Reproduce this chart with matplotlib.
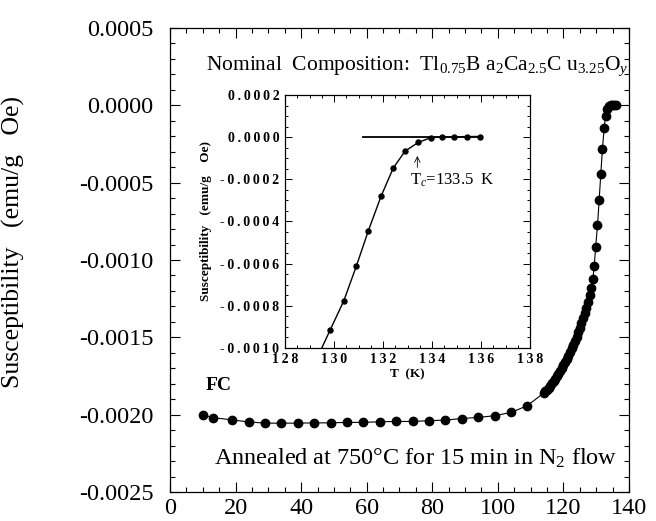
import matplotlib
matplotlib.use("Agg")
import matplotlib.pyplot as plt
from matplotlib.ticker import MultipleLocator, FuncFormatter

plt.rcParams["font.family"] = ["Liberation Serif", "DejaVu Serif"]
plt.rcParams["mathtext.fontset"] = "custom"
plt.rcParams["mathtext.rm"] = "Liberation Serif"
plt.rcParams["mathtext.it"] = "Liberation Serif:italic"
plt.rcParams["mathtext.bf"] = "Liberation Serif:bold"

# main curve, FC susceptibility (emu/g Oe) vs T (K)
T_main = [10, 13, 19, 24, 29, 34, 39, 44, 49, 54, 59, 64, 69, 74, 79, 84, 89, 94, 99, 104, 109,
          114.0, 114.5, 115.0, 115.5, 116.0, 116.5, 117.0, 117.5, 118.0, 118.5, 119.0, 119.5,
          120.0, 120.5, 121.0, 121.5, 122.0, 122.5, 123.0, 123.5, 124.0, 124.5, 125.0, 125.5,
          126.0, 126.5, 127.0, 127.5, 128.0, 128.5, 129.0, 129.4,
          129.84, 130.40, 130.91, 131.40, 131.92, 132.42, 132.90, 133.44, 133.96, 134.41,
          134.90, 135.42, 135.96]
chi_main = [-0.002000, -0.002019, -0.002034, -0.002047, -0.002055, -0.002055, -0.002055,
            -0.002053, -0.002053, -0.002050, -0.002050, -0.002046, -0.002044, -0.002044,
            -0.002039, -0.002035, -0.002025, -0.002018, -0.002007, -0.001986, -0.001942,
            -0.001860, -0.001848, -0.001838, -0.001826, -0.001812, -0.001798, -0.001784,
            -0.001768, -0.001752, -0.001735, -0.001718, -0.001700, -0.001680, -0.001660,
            -0.001640, -0.001618, -0.001595, -0.001572, -0.001548, -0.001522, -0.001496,
            -0.001468, -0.001440, -0.001410, -0.001378, -0.001344, -0.001308, -0.001270,
            -0.001228, -0.001180, -0.001120, -0.001040,
            -0.000915, -0.000776, -0.000612, -0.000444, -0.000280, -0.000146, -0.000066,
            -0.000025, -0.000002, 0.000000, 0.000001, 0.000003, 0.000003]

# inset, close to Tc
T_ins = [129.84, 130.40, 130.91, 131.40, 131.92, 132.42, 132.90, 133.44, 133.96, 134.41,
         134.90, 135.42, 135.96]
chi_ins = [-0.000915, -0.000776, -0.000612, -0.000444, -0.000280, -0.000146, -0.000066,
           -0.000025, -0.000002, 0.000000, 0.000001, 0.000003, 0.000003]
T_ins_line = [129.5] + T_ins
chi_ins_line = [-0.00100] + chi_ins
T_base = [131.2, 136.0]
chi_base = [0.000002, 0.000002]
Tc = 133.4


def spaced(s, sp="\u2009"):
    return sp.join(s)


def fmt4(v, p):
    v = round(v, 4) + 0.0
    return f"{v:.4f}"


fig = plt.figure(figsize=(6.56, 5.21), dpi=100)
ax = fig.add_axes([0.2591, 0.0557, 0.6997, 0.8906])
ax.plot(T_main, chi_main, color="black", lw=0.8, marker="o", ms=6.0, mfc="black", mec="black")
ax.set_xlim(0, 140)
ax.set_ylim(-0.0025, 0.0005)
ax.xaxis.set_major_locator(MultipleLocator(20))
ax.xaxis.set_minor_locator(MultipleLocator(5))
ax.yaxis.set_major_locator(MultipleLocator(0.0005))
ax.yaxis.set_minor_locator(MultipleLocator(0.0001))
ax.xaxis.set_major_formatter(FuncFormatter(lambda v, p: f"{v:.0f}"))
ax.yaxis.set_major_formatter(FuncFormatter(fmt4))
ax.tick_params(which="both", direction="in", top=True, right=True, labelsize=17.5, width=0.8)
ax.tick_params(which="major", length=7)
ax.tick_params(which="minor", length=3.5)
ax.tick_params(axis="y", pad=12)
ax.tick_params(axis="x", pad=4)
ax.set_ylabel("Susceptibility   (emu/g   Oe)", fontsize=18.5)
ax.yaxis.set_label_coords(-0.316, 0.539)
for s in ax.spines.values():
    s.set_linewidth(0.9)

ax.text(0.078, 0.917,
        r"Nominal  Composition:  Tl$_{0.75}$B a$_2$Ca$_{2.5}$C u$_{3.25}$O$_{y}$",
        transform=ax.transAxes, fontsize=15.5, ha="left", va="center")
ax.text(0.077, 0.23, "FC", transform=ax.transAxes, fontsize=14, fontweight="bold",
        ha="left", va="center")
ax.text(0.536, 0.072, r"Annealed at 750°C for 15 min in N$_2$ flow", transform=ax.transAxes,
        fontsize=17.5, ha="center", va="center")

# inset
ins = fig.add_axes([0.4345, 0.3321, 0.3735, 0.4856])
ins.plot(T_ins_line, chi_ins_line, color="black", lw=1.0)
ins.plot(T_ins, chi_ins, ls="none", marker="o", ms=3.6, color="black")
ins.plot(T_base, chi_base, color="black", lw=1.3)
ins.set_xlim(128, 138)
ins.set_ylim(-0.0010, 0.0002)
ins.xaxis.set_major_locator(MultipleLocator(2))
ins.xaxis.set_minor_locator(MultipleLocator(0.5))
ins.yaxis.set_major_locator(MultipleLocator(0.0002))
ins.yaxis.set_minor_locator(MultipleLocator(0.00005))
ins.xaxis.set_major_formatter(FuncFormatter(lambda v, p: spaced(f"{v:.0f}")))
ins.yaxis.set_major_formatter(FuncFormatter(lambda v, p: spaced(f"{round(v, 4) + 0.0:.4f}")))
ins.tick_params(which="both", direction="in", top=True, right=True, width=0.7)
ins.tick_params(which="major", length=5)
ins.tick_params(which="minor", length=2.5)
ins.tick_params(axis="y", pad=4)
ins.tick_params(axis="x", pad=3.5)
for lab in ins.get_xticklabels() + ins.get_yticklabels():
    lab.set_fontweight("bold")
    lab.set_fontsize(10)
ins.set_xlabel("T  (K)", fontsize=9.5, fontweight="bold", labelpad=2)
ins.set_ylabel("Susceptibility   (emu/g    Oe)", fontsize=9.5, fontweight="bold", labelpad=6)
ins.annotate("", xy=(Tc, -0.000076), xytext=(Tc, -0.000157),
             arrowprops=dict(arrowstyle="->", lw=0.6, color="black"))
ins.text(Tc - 0.3, -0.000205, r"T$_c$=133.5  K", fontsize=12, ha="left", va="center")
for s in ins.spines.values():
    s.set_linewidth(0.9)

fig.savefig("out.png", dpi=100)
